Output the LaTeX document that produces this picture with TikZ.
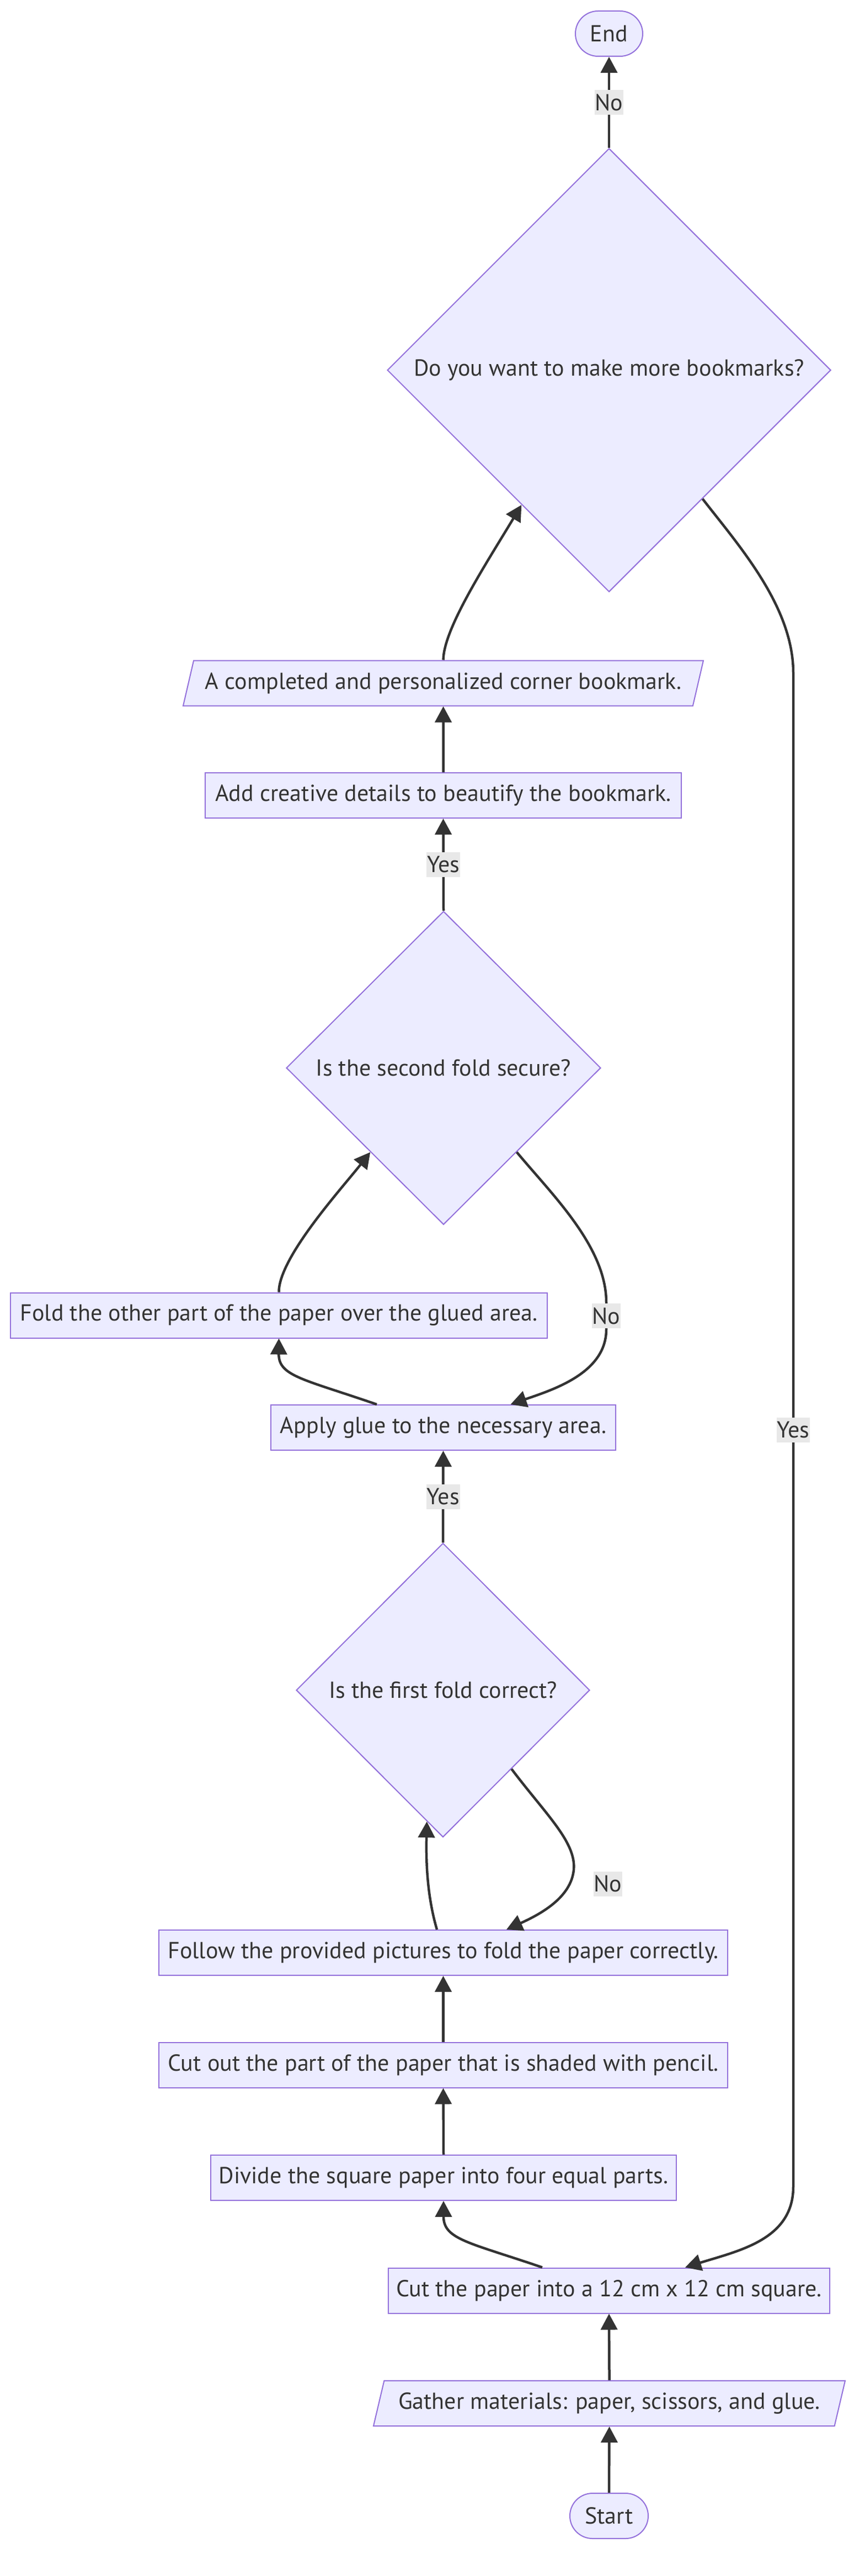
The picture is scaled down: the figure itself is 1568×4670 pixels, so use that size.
\documentclass[tikz,border=0pt]{standalone}
\usepackage{fontspec}
\setmainfont{PT Sans}
\usetikzlibrary{shapes.geometric,arrows.meta}
\definecolor{boxfill}{HTML}{ECECFF}
\definecolor{boxline}{HTML}{9370DB}
\definecolor{edgeline}{HTML}{333333}
\definecolor{labelfill}{HTML}{E8E8E8}

\begin{document}
\begin{tikzpicture}[x=1pt,y=-1pt,
    font=\fontsize{42}{50}\selectfont,
    base/.style={draw=boxline,fill=boxfill,line width=2pt,text=edgeline,minimum height=82pt,inner sep=0pt},
    proc/.style={base,rectangle},
    term/.style={base,rectangle,rounded corners=41pt},
    io/.style={base,trapezium,trapezium left angle=63.5,trapezium right angle=116.5,trapezium stretches body},
    decide/.style={base,diamond},
    lbl/.style={fill=labelfill,text=edgeline,inner sep=1pt,minimum height=45pt},
    flow/.style={draw=edgeline,line width=4.5pt,-{Triangle[length=29pt,width=30pt]}}]
    \fill[white] (0,0) rectangle (1568,4670);
    \node[term,minimum width=122pt] (end) at (1104,61) {End};
    \node[decide,minimum width=804pt,minimum height=804pt] (more) at (1104,671) {Do you want to make more bookmarks?};
    \node[io,minimum width=943pt] (done) at (803.5,1238.5) {A completed and personalized corner bookmark.};
    \node[proc,minimum width=863pt] (add) at (803.5,1442) {Add creative details to beautify the bookmark.};
    \node[decide,minimum width=570pt,minimum height=568pt] (second) at (804,1936) {Is the second fold secure?};
    \node[proc,minimum width=973pt] (fold) at (505.5,2384.5) {Fold the other part of the paper over the glued area.};
    \node[proc,minimum width=625pt] (glue) at (803.5,2588) {Apply glue to the necessary area.};
    \node[decide,minimum width=532pt,minimum height=533pt] (first) at (803,3064) {Is the first fold correct?};
    \node[proc,minimum width=1031pt] (follow) at (803.5,3540) {Follow the provided pictures to fold the paper correctly.};
    \node[proc,minimum width=1031pt] (cutout) at (803.5,3743.5) {Cut out the part of the paper that is shaded with pencil.};
    \node[proc,minimum width=844pt] (divide) at (804,3948) {Divide the square paper into four equal parts.};
    \node[proc,minimum width=800pt] (cut12) at (1104,4152.5) {Cut the paper into a 12 cm x 12 cm square.};
    \node[io,minimum width=855pt] (gather) at (1104.5,4357) {Gather materials: paper, scissors, and glue.};
    \node[term,minimum width=142pt] (start) at (1104,4561) {Start};
    \draw[flow] (start.north) -- (gather.south);
    \draw[flow] (gather.north) -- (cut12.south);
    \draw[flow] ([xshift=-121pt]cut12.north) .. controls (850,4065) and (804,4060) .. (divide.south);
    \draw[flow] (divide.north) -- (cutout.south);
    \draw[flow] (cutout.north) -- (follow.south);
    \draw[flow] ([xshift=-11.5pt]follow.north) .. controls (775,3440) and (772,3380) .. (first.263);
    \draw[flow] (first.-49.7) .. controls (990,3290) and (1045,3340) .. (1040,3390) .. controls (1035,3440) and (980,3470) .. ([xshift=114.5pt]follow.north);
    \node[lbl] (noFirst) at (1102,3415) {No};
    \draw[flow] (first.north) -- node[lbl] (yesFirst) {Yes} (glue.south);
    \draw[flow] ([xshift=-120.5pt]glue.north) .. controls (550,2500) and (505,2495) .. (fold.south);
    \draw[flow] (fold.north) .. controls (505,2280) and (620,2154) .. (second.229.8);
    \draw[flow] (second.-49.4) .. controls (1000,2165) and (1099,2260) .. (1099,2361) -- node[lbl] (noSecond) {No} (1099,2410) .. controls (1099,2490) and (1000,2520) .. ([xshift=122pt]glue.north);
    \draw[flow] (second.north) -- node[lbl] (yesSecond) {Yes} (add.south);
    \draw[flow] (add.north) -- (done.south);
    \draw[flow] (done.north) .. controls (804,1140) and (880,1024) .. (more.237.7);
    \draw[flow] (more.north) -- node[lbl] (noMore) {No} (end.south);
    \draw[flow] (more.-54.3) .. controls (1340,990) and (1438,1100) .. (1438,1220) -- node[lbl] (yesMore) {Yes} (1438,3964) .. controls (1438,4060) and (1340,4080) .. ([xshift=138pt]cut12.north);
\end{tikzpicture}
\end{document}
